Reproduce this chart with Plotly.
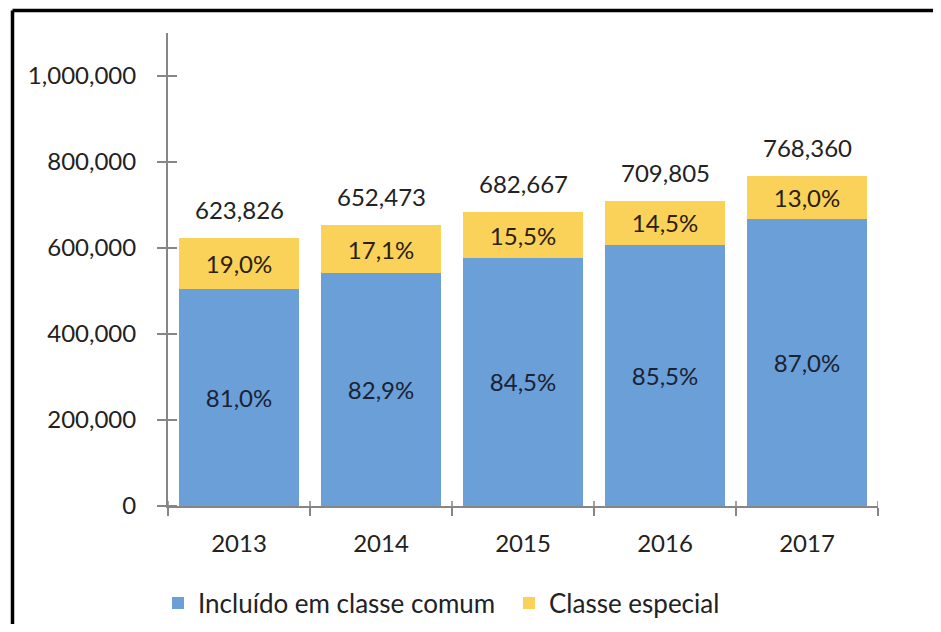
import plotly.graph_objects as go

years = ["2013", "2014", "2015", "2016", "2017"]
totals = [623826, 652473, 682667, 709805, 768360]
comum_pct = [81.0, 82.9, 84.5, 85.5, 87.0]
especial_pct = [19.0, 17.1, 15.5, 14.5, 13.0]
comum_vals = [505299, 540900, 576854, 606883, 668473]
especial_vals = [118527, 111573, 105813, 102922, 99887]
ytick_vals = [0, 200000, 400000, 600000, 800000, 1000000]
ytick_text = ["0", "200,000", "400,000", "600,000", "800,000", "1,000,000"]

FONT = "Lato"
BLUE = "#6A9FD8"
YELLOW = "#FAD25A"
TXT = "#222222"
AXC = "#868686"
FS = 24

def fmt_pct(v):
    return f"{v:.1f}%".replace(".", ",")

fig = go.Figure()
fig.add_trace(go.Bar(
    x=years, y=comum_vals, name="Incluído em classe comum",
    marker=dict(color=BLUE, line=dict(width=0)),
    text=[fmt_pct(v) for v in comum_pct], textposition="inside",
    insidetextanchor="middle", textangle=0,
    insidetextfont=dict(family=FONT, size=FS, color="#1a2233"),
))
fig.add_trace(go.Bar(
    x=years, y=especial_vals, name="Classe especial",
    marker=dict(color=YELLOW, line=dict(width=0)),
    text=[fmt_pct(v) for v in especial_pct], textposition="inside",
    insidetextanchor="middle", textangle=0,
    insidetextfont=dict(family=FONT, size=FS, color="#2a200c"),
))

for i, t in enumerate(totals):
    fig.add_annotation(x=i, y=t, xref="x", yref="y", text=f"{t:,}",
                       showarrow=False, yanchor="bottom", yshift=12,
                       font=dict(family=FONT, size=FS, color=TXT))

# page body adds an 8px offset; work in reference pixels minus 8
OFF = 8
W, H = 941 - 2 * OFF, 632 - 2 * OFF
L = 168 - OFF
T = 33 - OFF
R = W - (878 - OFF)
B = H - (506 - OFF)
pw, ph = W - L - R, H - T - B

def px2x(px):
    return (px - OFF - L) / pw

def px2y(py):
    return (H - B - (py - OFF)) / ph

# outer frame (top and left black lines)
fig.add_shape(type="line", xref="paper", yref="paper",
              x0=px2x(12.5), x1=px2x(945), y0=px2y(10.5), y1=px2y(10.5),
              line=dict(color="black", width=3.5))
fig.add_shape(type="line", xref="paper", yref="paper",
              x0=px2x(12.5), x1=px2x(12.5), y0=px2y(10.5), y1=px2y(640),
              line=dict(color="black", width=3.5))

# upper part of the crossing category-boundary ticks
for k in range(len(years) + 1):
    fig.add_shape(type="line", xref="x", yref="paper",
                  x0=k - 0.5, x1=k - 0.5, y0=0, y1=5 / ph,
                  line=dict(color=AXC, width=1.5))

fig.update_layout(
    width=W, height=H,
    barmode="stack", bargap=0.155,
    paper_bgcolor="white", plot_bgcolor="white",
    margin=dict(l=L, r=R, t=T, b=B, autoexpand=False),
    font=dict(family=FONT, size=FS, color=TXT),
    showlegend=True,
    legend=dict(orientation="h", x=px2x(158), xanchor="left",
                y=px2y(603), yanchor="middle",
                font=dict(family=FONT, size=26, color=TXT),
                traceorder="normal", itemwidth=30, itemsizing="constant",
                entrywidth=306, entrywidthmode="pixels"),
    uniformtext=dict(minsize=FS, mode="show"),
)
fig.update_xaxes(
    type="category", range=[-0.5, 4.5], showline=True, linecolor=AXC,
    linewidth=2, ticks="outside", tickson="boundaries", ticklen=8,
    tickcolor=AXC, tickwidth=1.5, showgrid=False, ticklabelstandoff=15,
    tickfont=dict(family=FONT, size=FS, color=TXT),
)
fig.update_yaxes(
    range=[0, 1100000], showline=True, linecolor=AXC, linewidth=2,
    ticks="outside", ticklen=9, tickcolor=AXC, tickwidth=1.5,
    tickvals=ytick_vals, ticktext=ytick_text, showgrid=False,
    zeroline=False, ticklabelstandoff=16,
    tickfont=dict(family=FONT, size=FS, color=TXT),
    minor=dict(ticks="inside", tick0=0, dtick=200000, ticklen=9,
               tickcolor=AXC, tickwidth=1.5, showgrid=False),
)

fig.write_html("out.html")
